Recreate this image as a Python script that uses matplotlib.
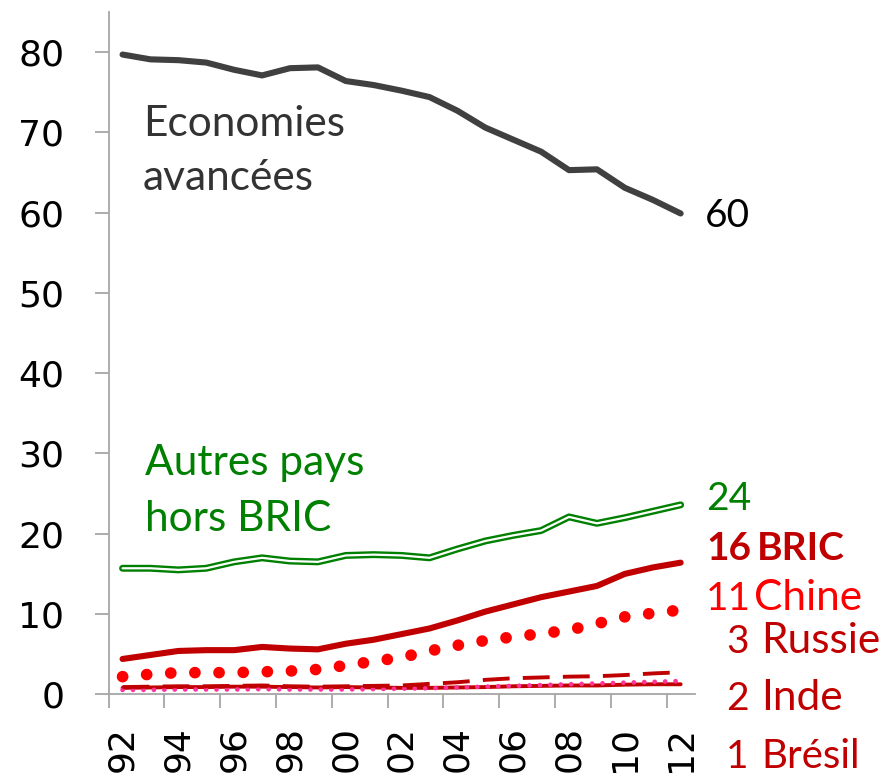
import numpy as np
import matplotlib
matplotlib.use('Agg')
import matplotlib.pyplot as plt

# share of world GDP (%), 1992-2012
years = list(range(1992, 2013))
advanced = [79.7, 79.1, 79.0, 78.7, 77.8, 77.1, 78.0, 78.1, 76.4, 75.9, 75.2,
            74.4, 72.7, 70.6, 69.1, 67.6, 65.3, 65.4, 63.1, 61.6, 59.9]
others = [15.7, 15.7, 15.5, 15.7, 16.5, 17.0, 16.6, 16.5, 17.3, 17.4, 17.3,
          17.0, 18.1, 19.1, 19.8, 20.4, 22.1, 21.3, 22.0, 22.8, 23.6]
bric = [4.4, 4.9, 5.4, 5.5, 5.5, 5.9, 5.7, 5.6, 6.3, 6.8, 7.5,
        8.2, 9.2, 10.3, 11.2, 12.1, 12.8, 13.5, 15.0, 15.8, 16.4]
chine = [2.2, 2.5, 2.7, 2.7, 2.7, 2.8, 2.9, 3.1, 3.6, 4.1, 4.6,
         5.4, 6.1, 6.7, 7.15, 7.55, 8.0, 8.8, 9.65, 10.1, 10.5]
russie = [0.9, 0.95, 1.0, 1.0, 1.05, 1.1, 1.0, 0.95, 1.0, 1.05, 1.1,
          1.3, 1.5, 1.8, 2.0, 2.1, 2.2, 2.25, 2.4, 2.6, 2.75]
inde = [0.55, 0.55, 0.6, 0.6, 0.6, 0.65, 0.6, 0.6, 0.6, 0.65, 0.7,
        0.75, 0.85, 0.95, 1.05, 1.15, 1.25, 1.35, 1.45, 1.55, 1.65]
bresil = [0.8, 0.85, 0.9, 0.9, 0.95, 0.95, 0.9, 0.85, 0.9, 0.85, 0.8,
          0.8, 0.85, 0.9, 1.0, 1.05, 1.1, 1.1, 1.2, 1.25, 1.25]

W, H = 885, 774
DARKRED = '#C00000'
RED = '#FF0000'
GREEN = '#008000'
GRAY = '#A6A6A6'

fig = plt.figure(figsize=(W / 100, H / 100), dpi=100)
ax = fig.add_axes([108.6 / W, (H - 694.3) / H, 586 / W, 682.3 / H])

x = np.arange(len(years))

ax.plot(x, bresil, color=DARKRED, lw=2.8, solid_capstyle='round', zorder=2)
ax.plot(x, inde, color='#FF3399', lw=3.4, linestyle=(0, (0.01, 2.2)),
        dash_capstyle='round', zorder=3)
ax.plot(x, russie, color=DARKRED, lw=2.8, linestyle=(0, (6.9, 3.4)), zorder=3)
ax.plot(x, chine, color=RED, lw=8.4, linestyle=(0, (0.01, 2.06)),
        dash_capstyle='round', zorder=4)
ax.plot(x, bric, color=DARKRED, lw=4.4, solid_capstyle='round', zorder=5)
ax.plot(x, others, color=GREEN, lw=5.0, solid_capstyle='round', zorder=5)
ax.plot(x, others, color='white', lw=1.6, solid_capstyle='round', zorder=6)
ax.plot(x, advanced, color='#404040', lw=4.4, solid_capstyle='round', zorder=5)

ax.set_xlim(-0.5, len(years) - 0.5)
ax.set_ylim(0, 85)
ax.set_yticks(range(0, 81, 10))
ax.set_xticks(np.arange(-0.5, len(years) - 1, 2))
ax.set_xticklabels([])
ax.set_xticks(x[::2], minor=True)
ax.set_xticklabels([f'{y % 100:02d}' for y in years[::2]], minor=True,
                   rotation=90)

for s in ['top', 'right']:
    ax.spines[s].set_visible(False)
for s in ['left', 'bottom']:
    ax.spines[s].set_color(GRAY)
    ax.spines[s].set_linewidth(1.3)

ax.tick_params(axis='both', which='major', direction='out', length=10,
               width=1.3, color=GRAY, labelsize=26, labelcolor='black')
ax.tick_params(axis='y', pad=22)
ax.tick_params(axis='x', which='minor', length=0, labelsize=26, pad=23)


def ftxt(px, py, s, size=28, **kw):
    fig.text(px / W, 1 - py / H, s, va='baseline', family='Lato',
             fontsize=size, **kw)


ftxt(143, 136, 'Economies', size=30.5, color='#333333')
ftxt(143, 190, 'avancées', size=30.5, color='#333333')
ftxt(145, 475, 'Autres pays', size=30.5, color=GREEN)
ftxt(145, 531, 'hors BRIC', size=30.5, color=GREEN)

ftxt(705, 227, '60', color='black')
ftxt(706, 510, '24', color=GREEN)
ftxt(706, 560, '16', color=DARKRED, fontweight='bold')
ftxt(757, 560, 'BRIC', color=DARKRED, fontweight='bold')
ftxt(706, 610, '11', color=RED)
ftxt(754, 610, 'Chine', size=30.5, color=RED)
ftxt(726, 653, '3', color=DARKRED)
ftxt(761, 653, 'Russie', size=30.5, color=DARKRED)
ftxt(726, 710, '2', color=DARKRED)
ftxt(761, 710, 'Inde', size=30.5, color=DARKRED)
ftxt(726, 768, '1', color=DARKRED)
ftxt(761, 768, 'Brésil', size=29, color=DARKRED)

fig.savefig('out.png', dpi=100)
